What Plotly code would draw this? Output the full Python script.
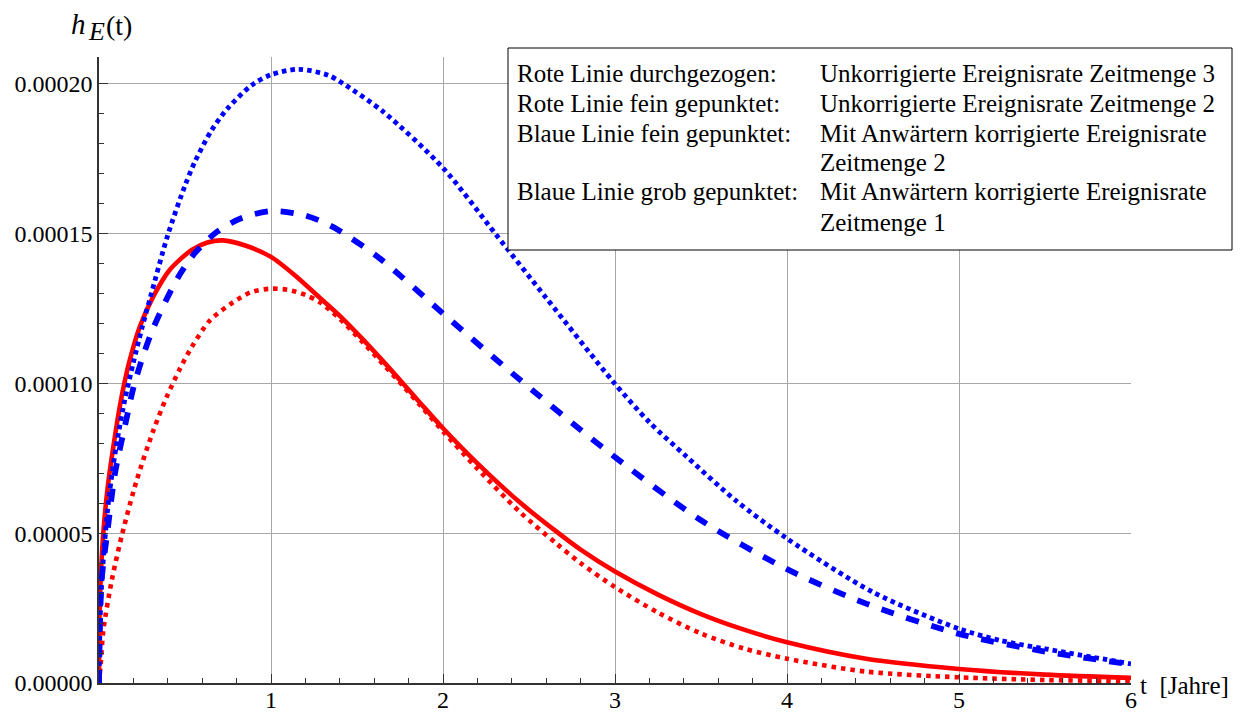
import numpy as np
import plotly.graph_objects as go

SCALE = 1e-5  # values below are read in units of 1e-5

# Rote Linie durchgezogen: Unkorrigierte Ereignisrate Zeitmenge 3
t_red_solid = [0, 0.003, 0.01, 0.025, 0.05, 0.083, 0.12, 0.151, 0.18, 0.238, 0.316, 0.413,
               0.539, 0.63, 0.72, 0.85, 1.0, 1.15, 1.285, 1.4, 1.537, 1.65, 1.77, 1.87, 2.0,
               2.2, 2.448, 2.66, 2.8, 3.0, 3.25, 3.5, 3.75, 4.0, 4.46, 5.0, 5.5, 6.0]
v_red_solid = [0, 2.3, 3.5, 5.0, 6.5, 7.87, 9.2, 10.1, 10.8, 11.9, 12.9, 13.8,
               14.45, 14.7, 14.77, 14.6, 14.22, 13.55, 12.85, 12.25, 11.45, 10.75, 9.98, 9.33, 8.5,
               7.33, 6.02, 5.05, 4.45, 3.72, 2.95, 2.3, 1.78, 1.36, 0.81, 0.47, 0.28, 0.17]

# Rote Linie fein gepunktet: Unkorrigierte Ereignisrate Zeitmenge 2
t_red_dot = [0, 0.01, 0.025, 0.074, 0.136, 0.219, 0.316, 0.393, 0.471, 0.539, 0.645, 0.781,
             0.888, 1.0, 1.1, 1.2, 1.285, 1.4, 1.537, 1.65, 1.77, 1.87, 2.0, 2.2, 2.448, 2.66,
             2.8, 3.0, 3.25, 3.5, 3.75, 4.0, 4.46, 5.0, 5.5, 6.0]
v_red_dot = [0, 0.65, 1.75, 3.42, 5.0, 6.76, 8.43, 9.54, 10.49, 11.21, 12.1, 12.71,
             13.05, 13.16, 13.12, 12.95, 12.7, 12.15, 11.35, 10.65, 9.9, 9.25, 8.4, 7.15, 5.7, 4.65,
             4.0, 3.2, 2.35, 1.65, 1.15, 0.81, 0.38, 0.19, 0.1, 0.06]

# Blaue Linie fein gepunktet: Mit Anwaertern korrigierte Ereignisrate Zeitmenge 2
t_blue_dot = [0, 0.01, 0.03, 0.06, 0.1, 0.15, 0.2, 0.25, 0.3, 0.4, 0.5, 0.558, 0.655,
              0.752, 0.888, 1.0, 1.16, 1.333, 1.42, 1.653, 2.0, 2.31, 2.6, 2.99, 3.2, 3.417,
              3.7, 4.0, 4.5, 5.0, 5.24, 5.5, 6.0]
v_blue_dot = [0, 2.7, 4.5, 6.3, 7.9, 9.45, 10.7, 11.85, 12.9, 14.95, 16.6, 17.4, 18.45,
              19.2, 19.95, 20.3, 20.48, 20.28, 20.0, 19.06, 17.19, 14.95, 12.85, 10.05, 8.7, 7.55,
              6.1, 4.82, 3.03, 1.81, 1.42, 1.14, 0.64]

# Blaue Linie grob gepunktet: Mit Anwaertern korrigierte Ereignisrate Zeitmenge 1
t_blue_dash = [0, 0.015, 0.05, 0.093, 0.161, 0.2, 0.258, 0.316, 0.384, 0.461, 0.558, 0.684,
               0.83, 1.01, 1.2, 1.36, 1.634, 2.0, 2.41, 2.93, 3.5, 4.0, 4.46, 5.0, 5.5, 6.0]
v_blue_dash = [0, 3.4, 5.1, 7.0, 8.85, 9.85, 10.95, 11.85, 12.7, 13.55, 14.35, 15.05,
               15.52, 15.75, 15.6, 15.22, 14.16, 12.33, 10.3, 7.85, 5.43, 3.8, 2.65, 1.64, 1.05, 0.62]

x_ticks = [1, 2, 3, 4, 5, 6]
y_ticks = [0.0, 0.00005, 0.00010, 0.00015, 0.00020]

legend_left = ["Rote Linie durchgezogen:", "Rote Linie fein gepunktet:",
               "Blaue Linie fein gepunktet:", "", "Blaue Linie grob gepunktet:", ""]
legend_right = ["Unkorrigierte Ereignisrate Zeitmenge 3", "Unkorrigierte Ereignisrate Zeitmenge 2",
                "Mit Anwärtern korrigierte Ereignisrate", "Zeitmenge 2",
                "Mit Anwärtern korrigierte Ereignisrate", "Zeitmenge 1"]

FONT = "Liberation Serif"
W, H = 1242, 712
ML, MR, MT, MB = 99, 111, 57, 29
PW, PH = W - ML - MR, H - MT - MB


def px_to_paper_x(px):
    return (px - ML) / PW


def py_to_paper_y(py):
    return (H - MB - py) / PH


fig = go.Figure()
series = [
    (t_red_solid, v_red_solid, "red", 4.6, "solid"),
    (t_red_dot, v_red_dot, "red", 4.6, "4.5px,5px"),
    (t_blue_dash, v_blue_dash, "blue", 5.8, "13px,13px"),
    (t_blue_dot, v_blue_dot, "blue", 4.8, "4.5px,4px"),
]
for t, v, col, w, dash in series:
    fig.add_trace(go.Scatter(
        x=t, y=np.array(v) * SCALE, mode="lines",
        line=dict(color=col, width=w, dash=dash, shape="spline", smoothing=0.8),
        showlegend=False, hoverinfo="skip"))

axis_common = dict(
    showline=True, linecolor="#333333", linewidth=1.5,
    showgrid=True, gridcolor="#a8a8a8", gridwidth=1.2,
    ticks="inside", ticklen=9, tickwidth=1, tickcolor="#333333",
    tickfont=dict(family=FONT, size=24, color="black"),
    zeroline=False,
)
fig.update_xaxes(range=[0, 6], tickmode="array", tickvals=x_ticks,
                 ticktext=[str(v) for v in x_ticks],
                 minor=dict(dtick=0.2, tick0=0, ticks="inside", ticklen=5.5,
                            tickcolor="#333333", showgrid=False),
                 **axis_common)
try:
    fig.update_xaxes(ticklabelstandoff=-6)
except Exception:
    pass
fig.update_yaxes(range=[0, 0.0002089], tickmode="array", tickvals=y_ticks,
                 ticktext=[f"{v:.5f}" for v in y_ticks],
                 minor=dict(dtick=0.00001, tick0=0, ticks="inside", ticklen=5.5,
                            tickcolor="#333333", showgrid=False),
                 **axis_common)

# legend box
fig.add_shape(type="rect", xref="paper", yref="paper",
              x0=px_to_paper_x(508), x1=px_to_paper_x(1232),
              y0=py_to_paper_y(250), y1=py_to_paper_y(48),
              line=dict(color="black", width=1), fillcolor="white", layer="above")

annotations = []
line_y = [74, 103.5, 133, 162.5, 192, 222.5]
for ly, lt, rt in zip(line_y, legend_left, legend_right):
    if lt:
        annotations.append(dict(x=px_to_paper_x(515), y=py_to_paper_y(ly), xref="paper",
                                yref="paper", text=lt, showarrow=False, xanchor="left",
                                yanchor="middle", font=dict(family=FONT, size=25, color="black")))
    annotations.append(dict(x=px_to_paper_x(818), y=py_to_paper_y(ly), xref="paper",
                            yref="paper", text=rt, showarrow=False, xanchor="left",
                            yanchor="middle", font=dict(family=FONT, size=25, color="black")))

# y-axis title h_E(t), composed of three pieces
for txt, px, py, size in [("<i>h</i>", 69, 24, 29), ("<i>E</i>", 86, 32, 26), ("(t)", 104, 25, 28)]:
    annotations.append(dict(x=px_to_paper_x(px), y=py_to_paper_y(py), xref="paper", yref="paper",
                            text=txt, showarrow=False, xanchor="left", yanchor="middle",
                            font=dict(family=FONT, size=size, color="black")))
annotations.append(dict(x=px_to_paper_x(1138), y=py_to_paper_y(686), xref="paper", yref="paper",
                        text="t\u2002[Jahre]", showarrow=False,
                        xanchor="left", yanchor="middle",
                        font=dict(family=FONT, size=25, color="black")))

fig.update_layout(
    width=W, height=H,
    margin=dict(l=ML, r=MR, t=MT, b=MB, autoexpand=False),
    paper_bgcolor="white", plot_bgcolor="white",
    annotations=annotations,
    font=dict(family=FONT, color="black"),
)

fig.write_html("out.html")
